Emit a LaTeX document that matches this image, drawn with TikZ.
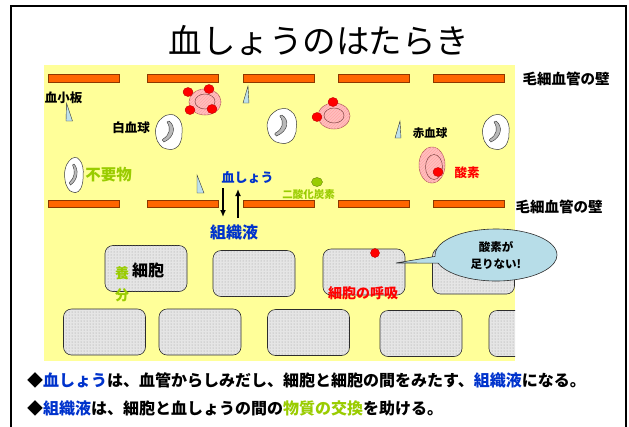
\documentclass[tikz,border=0pt]{standalone}
\usepackage{fontspec}
\setmainfont{Noto Sans CJK JP}
\usetikzlibrary{arrows.meta, patterns, shapes.callouts}

\definecolor{plasmayellow}{RGB}{255,255,153}
\definecolor{wallorange}{RGB}{255,102,0}
\definecolor{bloodblue}{RGB}{0,51,204}
\definecolor{leafgreen}{RGB}{153,204,0}
\definecolor{cellpink}{RGB}{255,190,190}
\definecolor{bubbleblue}{RGB}{183,221,232}
\definecolor{plateblue}{RGB}{190,225,235}

\newcommand{\fsz}[1]{\fontsize{#1}{#1}\selectfont}

\tikzset{
    wall/.style={draw=wallorange!55!black, fill=wallorange, line width=0.5pt},
    platelet/.style={draw=gray!40!black, fill=plateblue, line width=0.4pt},
    oxy/.style={draw=red!75!black, fill=red, line width=0.4pt},
    rbcbody/.style={draw=red!35!gray, fill=cellpink, line width=0.5pt,
        postaction={pattern=north east lines, pattern color=red!35}},
    rbccore/.style={draw=red!30!gray!80!black, line width=0.5pt},
    tissue/.style={draw=gray!35!black, rounded corners=8pt, fill=gray!20,
        minimum width=82pt, minimum height=46pt, inner sep=0pt, line width=0.6pt,
        postaction={pattern=dots, pattern color=gray!80}},
    lbl/.style={inner sep=0pt, font=\bfseries\fsz{#1}},
    lbl/.default=12,
    flow/.style={line width=1.6pt, -{Latex[length=7pt,width=6pt]}},
}
\tikzset{
    wbc/.pic={
        \draw[gray!45!black, fill=white, line width=0.5pt]
            plot[smooth cycle, tension=0.8] coordinates
            {(1,-17.5) (8,-15) (12.5,-8) (13,1) (11.5,10) (6,16.5) (-2,17)
             (-9,13) (-13,4) (-12.5,-6) (-7,-14)};
        \draw[gray!40!black, fill=gray!55, line width=0.4pt]
            (0,-11) .. controls (7,-6) and (6,5) .. (-5,10)
            .. controls (-7,8) .. (-6,7)
            .. controls (1,3) and (2,-4) .. (-2,-10) -- cycle;
    },
    rbc/.pic={
        \draw[rbcbody] (0,0) ellipse [x radius=16, y radius=13];
        \draw[rbccore] (0,-0.5) ellipse [x radius=10, y radius=7.5];
    }
}

\begin{document}
\begin{tikzpicture}[x=1pt, y=-1pt]
    \useasboundingbox (0,0) rectangle (629,426);
    \def\barw{71}
    % plasma area, frame and title
    \fill[plasmayellow] (44,65) rectangle (515,361);
    \draw[line width=2pt] (11,432) -- (11,6) -- (626,6) -- (626,432);
    \node[inner sep=0pt, font=\fsz{33.5}] (title) at (319,41) {血しょうのはたらき};

    % capillary walls
    \foreach \x in {48,147,243,338,433}{
        \draw[wall] (\x,74) rectangle ++(\barw,8);
        \draw[wall] (\x,200) rectangle ++(\barw,7.5);
    }
    \node[lbl=14.5] (wallA) at (566,79) {毛細血管の壁};
    \node[lbl=14.5] (wallB) at (559,207) {毛細血管の壁};

    % tissue cells
    \begin{scope}
    \clip (44,65) rectangle (515,361);
    \node[tissue] (c1) at (146,268.5) {};
    \node[tissue] (c2) at (254,273.5) {};
    \node[tissue] (c3) at (364,272) {};
    \node[tissue] (c4) at (473.5,271) {};
    \node[tissue] (d1) at (104.5,332) {};
    \node[tissue] (d2) at (200,332) {};
    \node[tissue] (d3) at (308.5,332.5) {};
    \node[tissue] (d4) at (421,333.5) {};
    \node[tissue] (d5) at (530,333.5) {};
    \end{scope}

    % white cells
    \pic at (169,132) {wbc};
    \pic[xscale=1.1] at (282,126) {wbc};
    \pic at (496,132) {wbc};
    \pic[xscale=0.7] at (74,175) {wbc};

    % red cells with oxygen
    \pic at (205,102) {rbc};
    \pic at (334,116) {rbc};
    \draw[rbcbody] (432,165) ellipse [x radius=13, y radius=18];
    \draw[rbccore] (434,167) ellipse [x radius=8.5, y radius=12.5];
    \foreach \p in {(188,92),(209,89),(190,110),(212,109),(333,102),(317,117),(438,172)}
        \draw[oxy] \p ellipse [x radius=5, y radius=4.5];

    % platelets
    \draw[platelet] (66.5,103) -- (66,121) -- (72.5,121) -- cycle;
    \draw[platelet] (248,86) -- (243,103) -- (249,103) -- cycle;
    \draw[platelet] (400,121) -- (395,138) -- (401,138) -- cycle;
    \draw[platelet] (197,175) -- (197,193) -- (204,193) -- cycle;

    % labels
    \node[lbl=12.5] (platel) at (63.5,98) {血小板};
    \node[lbl=12.5] (wbcl) at (131,128) {白血球};
    \node[lbl=11.5] (rbcl) at (430,133) {赤血球};
    \node[lbl=12.5, text=red] (oxl) at (467,173) {酸素};
    \node[lbl=15.5, text=leafgreen] (wastel) at (108.5,175) {不要物};
    \node[lbl=13, text=bloodblue] (plasmal) at (247.5,178) {血しょう};
    \node[lbl=16, text=bloodblue] (fluidl) at (234,232) {組織液};
    \node[lbl=10.5, text=leafgreen] (co2l) at (308.5,195) {二酸化炭素};
    \draw[draw=leafgreen!60!black, fill=leafgreen] (317,182) ellipse [x radius=5.5, y radius=4.5];

    \node[lbl=16] (celll) at (148,270) {細胞};
    \node[inner sep=0pt, text=leafgreen, align=center,
          font=\bfseries\fontsize{14}{22}\selectfont] (nutl) at (122,284) {養\\分};
    \node[lbl=14, text=red] (respl) at (363,293) {細胞の呼吸};
    \draw[oxy] (375,253) ellipse [x radius=4.5, y radius=4.5];

    % exchange between plasma and tissue fluid
    \coordinate (dnA) at (223,188);
    \coordinate (dnB) at (223,217);
    \coordinate (upA) at (238,218);
    \coordinate (upB) at (238,189);
    \draw[flow] (dnA) -- (dnB);
    \draw[flow] (upA) -- (upB);

    % speech bubble
    \coordinate (lack) at (396,263);
    \node[ellipse callout, draw=gray!35!black, fill=bubbleblue, line width=0.6pt,
          minimum width=122pt, minimum height=52pt, inner sep=0pt,
          callout absolute pointer={(lack)}, align=center,
          font=\bfseries\fontsize{11.5}{17}\selectfont] (short) at (496,255) {酸素が\\足りない!};

    % notes
    \node[lbl=16, anchor=west] (noteA) at (27,380)
        {◆\textcolor{bloodblue}{血しょう}は、血管からしみだし、細胞と細胞の間をみたす、\textcolor{bloodblue}{組織液}になる。};
    \node[lbl=16, anchor=west] (noteB) at (27,408)
        {◆\textcolor{bloodblue}{組織液}は、細胞と血しょうの間の\textcolor{leafgreen}{物質の交換}を助ける。};
\end{tikzpicture}
\end{document}
